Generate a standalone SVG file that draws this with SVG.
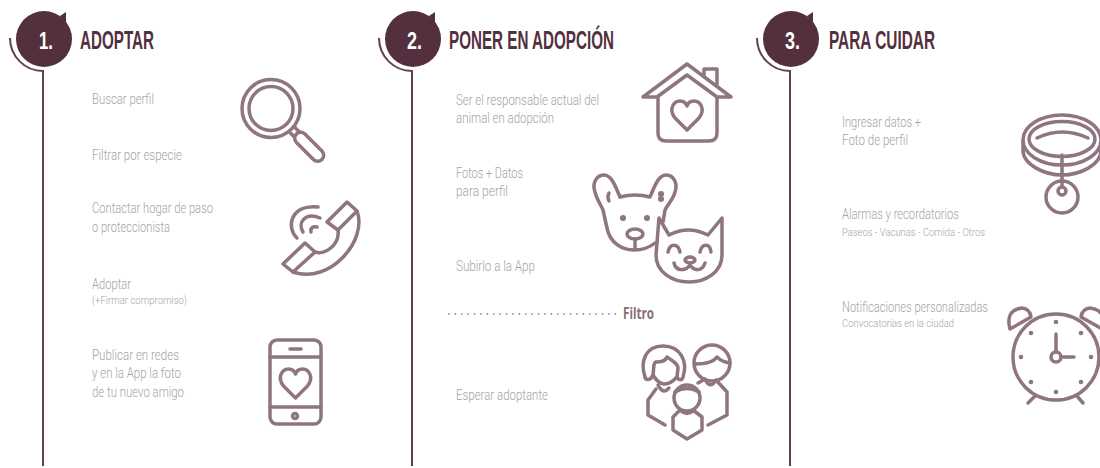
<svg xmlns="http://www.w3.org/2000/svg" width="1100" height="468" viewBox="0 0 1100 468">
<defs>
<style>
.b{font-family:Roboto,"Liberation Sans",sans-serif;font-weight:300;font-size:15.300px;fill:#a9a2a5}
.s{font-family:Roboto,"Liberation Sans",sans-serif;font-weight:300;font-size:11.500px;fill:#a9a2a5}
.t{font-family:"Liberation Sans",Arial,sans-serif;font-weight:700;font-size:26.500px;fill:#54303e}
.n{font-family:"Liberation Sans",Arial,sans-serif;font-weight:700;font-size:24px;fill:#fff}
.f{font-family:"Open Sans","Liberation Sans",sans-serif;font-weight:700;font-size:15.500px;fill:#8a6e79}
.i{fill:none;stroke:#8f7581;stroke-width:3.500;stroke-linecap:round;stroke-linejoin:round}
.d{fill:#8f7581}
.sp{fill:none;stroke:#64414f;stroke-width:2}
</style>
<g id="badge">
<path d="M60,16 L66,12 L66,24 Z" fill="#54303e"/>
<circle cx="44" cy="39" r="28" fill="#54303e"/>
<path class="sp" d="M10,38 A33,33 0 0 0 43,71 V466"/>
</g>
<path id="heart" d="M0,15 L-12,3 C-19,-6 -13,-14 -7,-14 C-4,-14 -1,-12 0,-9 C1,-12 4,-14 7,-14 C13,-14 19,-6 12,3 Z"/>
</defs>
<rect width="1100" height="468" fill="#fff"/>

<g id="step-1">
<use href="#badge"/>
<text class="n" x="39" y="49" textLength="14" lengthAdjust="spacingAndGlyphs">1.</text>
<text class="t" x="80" y="49" textLength="74" lengthAdjust="spacingAndGlyphs">ADOPTAR</text>
<text class="b" x="92" y="104" textLength="62" lengthAdjust="spacingAndGlyphs">Buscar perfil</text>
<text class="b" x="92" y="160" textLength="90" lengthAdjust="spacingAndGlyphs">Filtrar por especie</text>
<text class="b" x="92" y="213" textLength="121" lengthAdjust="spacingAndGlyphs">Contactar hogar de paso</text>
<text class="b" x="92" y="232" textLength="78" lengthAdjust="spacingAndGlyphs">o proteccionista</text>
<text class="b" x="92" y="289" textLength="39" lengthAdjust="spacingAndGlyphs">Adoptar</text>
<text class="s" x="92" y="304" textLength="95" lengthAdjust="spacingAndGlyphs">(+Firmar compromiso)</text>
<text class="b" x="92" y="360" textLength="87" lengthAdjust="spacingAndGlyphs">Publicar en redes</text>
<text class="b" x="92" y="378" textLength="89" lengthAdjust="spacingAndGlyphs">y en la App la foto</text>
<text class="b" x="92" y="397" textLength="92" lengthAdjust="spacingAndGlyphs">de tu nuevo amigo</text>
</g>
<g id="icon-search" class="i">
<circle cx="271" cy="108.500" r="29"/>
<circle cx="271" cy="108.500" r="22"/>
<g transform="rotate(45 271 108.500)">
<rect x="307" y="102.500" width="36" height="12" rx="6"/>
<path d="M301,105 H307 M301,112 H307"/>
</g>
</g>
<g id="icon-phone" class="i">
<path d="M347,202 L357,211 L338,230 L327,222 Z"/>
<path d="M305,243 L315,252 L293,272 L283,264 Z"/>
<path d="M357,211 C368,240 330,285 293,272"/>
<path d="M338,230 C340,245 325,255 315,252"/>
<path d="M297,238 C286,228 290,204 318,207"/>
<path d="M303,232 C297,222 306,212 320,218"/>
<path d="M311,232 C310,228 313,226 317,227"/>
</g>
<g id="icon-mobile" class="i">
<rect x="270" y="340" width="51" height="84" rx="7"/>
<path d="M270,357 H321 M270,407 H321 M290,349 H301"/>
<circle cx="295" cy="416" r="2.500"/>
<use href="#heart" transform="translate(295.500,383)"/>
</g>

<g id="step-2">
<use href="#badge" x="369"/>
<text class="n" x="407" y="49" textLength="15" lengthAdjust="spacingAndGlyphs">2.</text>
<text class="t" x="449" y="49" textLength="165" lengthAdjust="spacingAndGlyphs">PONER EN ADOPCIÓN</text>
<text class="b" x="456" y="105" textLength="143" lengthAdjust="spacingAndGlyphs">Ser el responsable actual del</text>
<text class="b" x="456" y="123" textLength="98" lengthAdjust="spacingAndGlyphs">animal en adopción</text>
<text class="b" x="456" y="178" textLength="67" lengthAdjust="spacingAndGlyphs">Fotos + Datos</text>
<text class="b" x="456" y="196" textLength="52" lengthAdjust="spacingAndGlyphs">para perfil</text>
<text class="b" x="456" y="271" textLength="79" lengthAdjust="spacingAndGlyphs">Subirlo a la App</text>
<path d="M449,314 H617" fill="none" stroke="#a58f98" stroke-width="1.800" stroke-linecap="round" stroke-dasharray="0 6.400"/>
<text class="f" x="623" y="319" textLength="31" lengthAdjust="spacingAndGlyphs">Filtro</text>
<text class="b" x="456" y="400" textLength="92" lengthAdjust="spacingAndGlyphs">Esperar adoptante</text>
</g>
<g id="icon-house" class="i">
<path d="M643,97 L687,64 L731,97 H717 L687,75 L657,97 Z"/>
<path d="M704,75 V69 H717 V84"/>
<path d="M658,98 V133 Q658,141 666,141 H709 Q717,141 717,133 V98"/>
<use href="#heart" transform="translate(687,115)"/>
</g>
<g id="icon-dog" class="i">
<path d="M620,197 C616,188 612,175 604,175 C596,175 592,184 595,192 C597,200 601,205 603,210 L607,228 C610,243 622,250 634,250 C642,250 650,247 655,243"/>
<path d="M620,197 Q635,193 650,197 C654,188 658,175 666,175 C674,175 678,184 675,192 C673,200 667,205 665,210 L663,222"/>
<path d="M609,193 Q607,197 609,201"/>
<path d="M635,239 V249"/>
<ellipse cx="635" cy="234" rx="8" ry="5"/>
<circle class="d" cx="661" cy="194" r="1.300"/><circle class="d" cx="661" cy="199" r="1.300"/>
<circle class="d" cx="623" cy="218" r="1.300"/><circle class="d" cx="647" cy="218" r="1.300"/>
</g>
<g id="icon-cat" class="i">
<path d="M659,218 L656,255 C656,272 672,282 689,282 C706,282 722,272 722,255 L722,218 L708,235 Q688,225 669,235 Z"/>
<path d="M668,252 C670,243 678,243 680,252"/>
<path d="M700,252 C702,243 710,243 711,252"/>
<ellipse cx="690" cy="260" rx="5" ry="3"/>
<path d="M674,263 C676,272 686,271 690,265 C694,271 702,272 705,263"/>
</g>
<g id="icon-family" class="i">
<path d="M645,377 C640,362 645,346 663,346 C681,346 688,362 683,377 C682,381 678,380 677,377"/>
<path d="M645,377 C646,381 651,380 653,375 C654,368 653,363 656,362 C660,362 665,362 667,357 C673,361 678,364 678,368 L677,377"/>
<path d="M653,375 Q663,392 677,377"/>
<path d="M658,385 Q663,395 669,388"/>
<path d="M656,389 L648,400 V415 L665,425"/>
<circle cx="712" cy="363" r="18"/>
<path d="M695,364 Q712,364 717,357 Q722,362 730,363"/>
<path d="M698,383 L705,379 Q710,390 716,380 L727,392 V415 L708,425"/>
<circle cx="687" cy="398" r="13"/>
<path d="M675,392 Q687,385 699,392"/>
<path d="M680,410 L673,417 V430 L687,439 L702,430 V417 L693,410"/>
<path d="M681,411 Q687,416 693,411"/>
</g>

<g id="step-3">
<use href="#badge" x="747"/>
<text class="n" x="785" y="49" textLength="15" lengthAdjust="spacingAndGlyphs">3.</text>
<text class="t" x="829" y="49" textLength="106" lengthAdjust="spacingAndGlyphs">PARA CUIDAR</text>
<text class="b" x="842" y="127" textLength="79" lengthAdjust="spacingAndGlyphs">Ingresar datos +</text>
<text class="b" x="842" y="145" textLength="66" lengthAdjust="spacingAndGlyphs">Foto de perfil</text>
<text class="b" x="842" y="219" textLength="117" lengthAdjust="spacingAndGlyphs">Alarmas y recordatorios</text>
<text class="s" x="842" y="236" textLength="143" lengthAdjust="spacingAndGlyphs">Paseos - Vacunas - Comida - Otros</text>
<text class="b" x="842" y="312" textLength="146" lengthAdjust="spacingAndGlyphs">Notificaciones personalizadas</text>
<text class="s" x="842" y="327" textLength="112" lengthAdjust="spacingAndGlyphs">Convocatorias en la ciudad</text>
</g>
<g id="icon-collar" class="i">
<ellipse cx="1062" cy="140" rx="39" ry="25"/>
<ellipse cx="1062" cy="139" rx="33" ry="17.500"/>
<path d="M1023,142 V150 C1023,165 1045,175 1062,175 C1080,175 1101,165 1101,150 V142"/>
<path d="M1037,138 Q1062,126 1088,138"/>
<path d="M1062,155 V187"/>
<circle cx="1062" cy="191" r="4"/>
<circle cx="1062" cy="197" r="16"/>
</g>
<g id="icon-clock" class="i">
<circle cx="1056" cy="357" r="43"/>
<path d="M1010,329 Q1005,310 1022,308 Q1030,309 1031,317 Z"/>
<path d="M1102,329 Q1107,310 1090,308 Q1082,309 1081,317 Z"/>
<path d="M1028,403 L1035,396 M1083,403 L1077,396"/>
<circle cx="1056" cy="357" r="5"/>
<path d="M1056,352 V334 M1061,357 H1074"/>
<g class="d" stroke="none">
<circle cx="1056" cy="322" r="2.300"/><circle cx="1091" cy="357" r="2.300"/><circle cx="1056" cy="392" r="2.300"/><circle cx="1021" cy="357" r="2.300"/>
<circle cx="1031" cy="333" r="2.300"/><circle cx="1081" cy="333" r="2.300"/><circle cx="1031" cy="382" r="2.300"/><circle cx="1081" cy="382" r="2.300"/>
</g>
</g>
</svg>
